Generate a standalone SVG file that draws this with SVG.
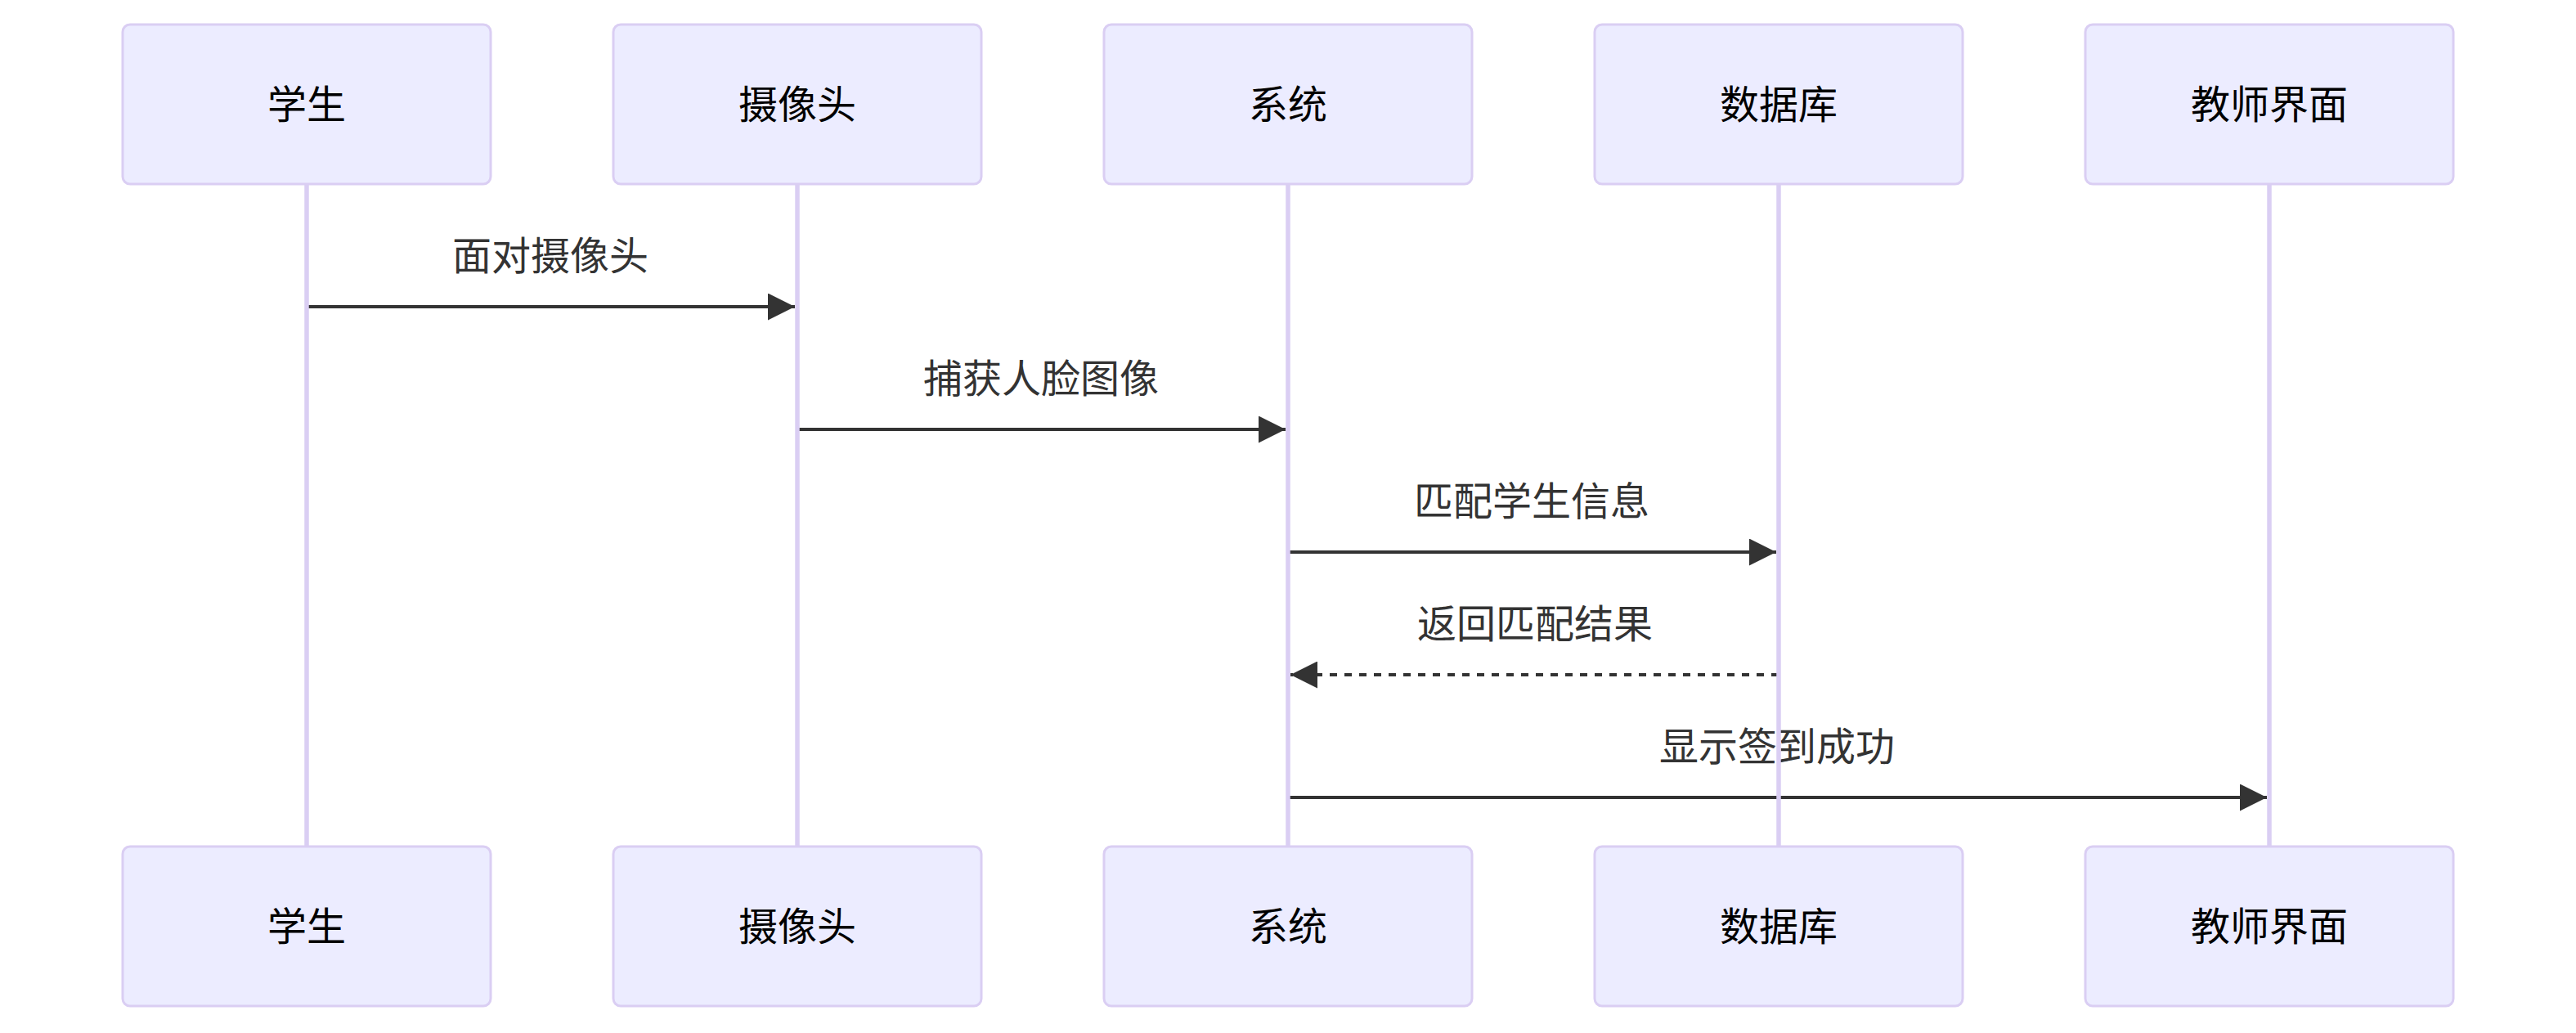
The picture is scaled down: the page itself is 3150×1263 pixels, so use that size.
<svg xmlns="http://www.w3.org/2000/svg" width="3150" height="1263" viewBox="0 0 3150 1263">
<style>
.actor{fill:#ECECFF;stroke:#DACEF3;stroke-width:3}
.lifeline{stroke:#DACEF3;stroke-width:5.5}
.atext{font-family:"Noto Sans CJK SC","Noto Sans",sans-serif;font-size:48px;fill:#000;text-anchor:middle;dominant-baseline:central}
.mtext{font-family:"Noto Sans CJK SC","Noto Sans",sans-serif;font-size:48px;fill:#333;text-anchor:middle;dominant-baseline:central}
.msg{stroke:#333;stroke-width:4;fill:none}
.dash{stroke-dasharray:9,9}
</style>
<defs>
<marker id="arrow" viewBox="0 0 12 12" refX="12" refY="6" markerWidth="33" markerHeight="33" markerUnits="userSpaceOnUse" orient="auto">
<path d="M0,0 L12,6 L0,12 z" fill="#333"/>
</marker>
</defs>
<rect width="3150" height="1263" fill="#fff"/>
<g id="connectors">
<line class="msg" x1="375" y1="375" x2="972" y2="375" marker-end="url(#arrow)"/>
<text class="mtext" x="673" y="309">面对摄像头</text>
<line class="msg" x1="975" y1="525" x2="1572" y2="525" marker-end="url(#arrow)"/>
<text class="mtext" x="1273" y="459">捕获人脸图像</text>
<line class="msg" x1="1575" y1="675" x2="2172" y2="675" marker-end="url(#arrow)"/>
<text class="mtext" x="1873" y="609">匹配学生信息</text>
<line class="msg dash" x1="2175" y1="825" x2="1578" y2="825" marker-end="url(#arrow)"/>
<text class="mtext" x="1877" y="759">返回匹配结果</text>
<line class="msg" x1="1575" y1="975" x2="2772" y2="975" marker-end="url(#arrow)"/>
<text class="mtext" x="2173" y="909">显示签到成功</text>
</g>
<g id="actor-student">
<line class="lifeline" x1="375" y1="225" x2="375" y2="1035"/>
<rect class="actor" x="150" y="30" width="450" height="195" rx="9"/>
<text class="atext" x="375" y="123.5">学生</text>
<rect class="actor" x="150" y="1035" width="450" height="195" rx="9"/>
<text class="atext" x="375" y="1128.5">学生</text>
</g>
<g id="actor-camera">
<line class="lifeline" x1="975" y1="225" x2="975" y2="1035"/>
<rect class="actor" x="750" y="30" width="450" height="195" rx="9"/>
<text class="atext" x="975" y="123.5">摄像头</text>
<rect class="actor" x="750" y="1035" width="450" height="195" rx="9"/>
<text class="atext" x="975" y="1128.5">摄像头</text>
</g>
<g id="actor-system">
<line class="lifeline" x1="1575" y1="225" x2="1575" y2="1035"/>
<rect class="actor" x="1350" y="30" width="450" height="195" rx="9"/>
<text class="atext" x="1575" y="123.5">系统</text>
<rect class="actor" x="1350" y="1035" width="450" height="195" rx="9"/>
<text class="atext" x="1575" y="1128.5">系统</text>
</g>
<g id="actor-database">
<line class="lifeline" x1="2175" y1="225" x2="2175" y2="1035"/>
<rect class="actor" x="1950" y="30" width="450" height="195" rx="9"/>
<text class="atext" x="2175" y="123.5">数据库</text>
<rect class="actor" x="1950" y="1035" width="450" height="195" rx="9"/>
<text class="atext" x="2175" y="1128.5">数据库</text>
</g>
<g id="actor-teacher">
<line class="lifeline" x1="2775" y1="225" x2="2775" y2="1035"/>
<rect class="actor" x="2550" y="30" width="450" height="195" rx="9"/>
<text class="atext" x="2775" y="123.5">教师界面</text>
<rect class="actor" x="2550" y="1035" width="450" height="195" rx="9"/>
<text class="atext" x="2775" y="1128.5">教师界面</text>
</g>
</svg>
